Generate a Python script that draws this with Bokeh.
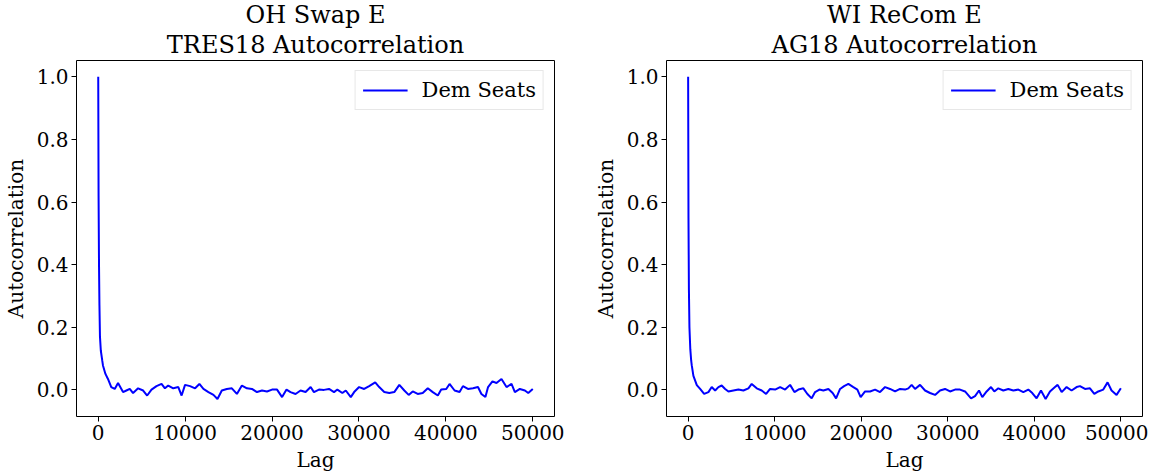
from bokeh.plotting import figure
from bokeh.layouts import row
from bokeh.models import FixedTicker, PrintfTickFormatter, Range1d, Legend, LegendItem, Title
from bokeh.embed import file_html
from bokeh.resources import INLINE

# ---- data ----
lag_oh = [0, 40, 90, 140, 200, 300, 460, 545, 830, 1120, 1500, 1900, 2280, 2855, 3240, 3630, 4010,
          4590, 5170, 5630, 6130, 6705, 7285, 7675, 8055, 8635, 9215, 9595, 9990, 10565, 11145,
          11640, 12105, 12680, 13260, 13720, 14220, 14795, 15375, 15955, 16530, 17110, 17685,
          18265, 18845, 19420, 20000, 20575, 21155, 21665, 22125, 22705, 23280, 23860, 24440,
          24820, 25400, 25975, 26555, 27130, 27515, 28090, 28485, 29060, 29445, 30020, 30600,
          31175, 31870, 32330, 32910, 33490, 34065, 34645, 35220, 35720, 36185, 36760, 37340,
          37920, 38495, 39075, 39465, 40045, 40425, 41005, 41580, 41965, 42540, 43120, 43695,
          44090, 44550, 44855, 45360, 45825, 46400, 46980, 47555, 47940, 48515, 49095, 49480, 50000]
acf_oh = [1.0, 0.62, 0.40, 0.27, 0.17, 0.125, 0.094, 0.078, 0.051, 0.035, 0.009, 0.003, 0.022, -0.007,
          -0.002, 0.003, -0.010, 0.005, -0.002, -0.018, 0.001, 0.012, 0.019, 0.005, 0.014, 0.005,
          0.009, -0.018, 0.016, 0.012, 0.005, 0.019, 0.003, -0.007, -0.016, -0.029, -0.002, 0.003,
          0.005, -0.013, 0.014, 0.005, 0.003, -0.007, -0.002, -0.005, 0.001, 0.001, -0.023, 0.001,
          -0.007, -0.013, -0.002, -0.007, 0.009, -0.007, 0.001, 0.000, 0.003, -0.007, 0.001, -0.010,
          -0.002, -0.023, -0.007, 0.009, 0.003, 0.012, 0.024, 0.009, -0.007, -0.010, -0.007, 0.016,
          -0.002, -0.016, -0.005, -0.013, -0.010, 0.005, -0.007, -0.018, 0.001, 0.003, 0.019, -0.002,
          -0.007, 0.012, 0.003, 0.005, 0.009, -0.013, -0.023, 0.009, 0.027, 0.022, 0.035, 0.009,
          0.019, -0.007, 0.003, -0.002, -0.010, 0.003]

lag_wi = [0, 40, 90, 150, 250, 350, 420, 610, 1000, 1385, 1850, 2345, 2725, 3120, 3500, 3880, 4275,
          4655, 5230, 5810, 6385, 6965, 7345, 7925, 8500, 9010, 9470, 10050, 10625, 11205, 11780,
          12280, 12740, 13315, 13780, 14275, 14670, 15165, 15625, 16205, 16700, 17095, 17555,
          18020, 18515, 19090, 19555, 19935, 20445, 21020, 21600, 22175, 22755, 23330, 23910,
          24485, 25065, 25445, 25825, 26220, 26795, 27375, 27950, 28530, 29105, 29685, 30260,
          30840, 31415, 31995, 32685, 33150, 33610, 33990, 34490, 34995, 35380, 35840, 36420,
          36995, 37575, 38150, 38730, 39305, 39765, 40265, 40770, 41305, 41810, 42390, 42695,
          43160, 43730, 44305, 44885, 45275, 45855, 46430, 46930, 47390, 47965, 48465, 48925,
          49505, 50000]
acf_wi = [1.0, 0.55, 0.32, 0.20, 0.13, 0.094, 0.078, 0.045, 0.015, 0.003, -0.013, -0.007, 0.009,
          -0.002, 0.009, 0.014, 0.003, -0.005, -0.002, 0.001, -0.002, 0.005, 0.019, 0.005, -0.002,
          -0.013, 0.003, 0.001, 0.009, 0.001, 0.016, -0.007, 0.001, 0.005, -0.013, -0.027, -0.007,
          0.001, -0.002, 0.003, -0.010, -0.027, 0.003, 0.012, 0.019, 0.009, 0.001, -0.023, -0.005,
          -0.005, 0.001, -0.007, 0.009, 0.003, -0.005, 0.003, 0.001, 0.005, 0.016, 0.003, 0.016,
          -0.002, -0.010, -0.016, -0.002, 0.003, -0.005, 0.001, 0.001, -0.005, -0.027, -0.020,
          -0.002, -0.023, -0.005, 0.009, -0.005, 0.005, -0.002, 0.003, -0.002, 0.001, -0.007, 0.001,
          -0.010, -0.027, -0.002, -0.029, -0.005, 0.009, 0.016, -0.007, 0.009, -0.002, 0.009, 0.012,
          0.003, 0.005, -0.013, -0.005, 0.001, 0.024, -0.002, -0.016, 0.005]

titles_top = ["OH Swap E", "WI ReCom E"]
titles_bottom = ["TRES18 Autocorrelation", "AG18 Autocorrelation"]
series_label = "Dem Seats"
x_label = "Lag"
y_label = "Autocorrelation"
x_ticks = [0, 10000, 20000, 30000, 40000, 50000]
y_ticks = [0.0, 0.2, 0.4, 0.6, 0.8, 1.0]

FONT = "DejaVu Serif"
X0, X1 = -2500, 52500
Y0, Y1 = -0.085, 1.052


def make_title(text, standoff):
    return Title(text=text, align="center", text_font=FONT, text_font_size="24px",
                 text_font_style="normal", text_color="black", standoff=standoff)


def make_plot(lags, acf, t1, t2, width, border_left, border_right):
    p = figure(width=width, height=474, output_backend="svg", toolbar_location=None,
               x_range=Range1d(X0, X1), y_range=Range1d(Y0, Y1),
               min_border_left=border_left, min_border_right=border_right,
               min_border_top=40, min_border_bottom=30)
    p.grid.visible = False
    p.outline_line_color = "black"
    p.outline_line_width = 1
    r = p.line(lags, acf, line_color="#0000ff", line_width=2)

    for ax in (p.xaxis[0], p.yaxis[0]):
        ax.axis_line_color = None
        ax.major_tick_line_color = "black"
        ax.major_tick_out = 5
        ax.major_tick_in = 0
        ax.minor_tick_line_color = None
        ax.major_label_text_font = FONT
        ax.major_label_text_font_size = "20px"
        ax.major_label_text_color = "black"
        ax.axis_label_text_font = FONT
        ax.axis_label_text_font_size = "20px"
        ax.axis_label_text_font_style = "normal"
        ax.axis_label_text_color = "black"
        ax.major_label_standoff = 3
    p.xaxis[0].ticker = FixedTicker(ticks=x_ticks)
    p.xaxis[0].formatter = PrintfTickFormatter(format="%d")
    p.yaxis[0].ticker = FixedTicker(ticks=y_ticks)
    p.yaxis[0].formatter = PrintfTickFormatter(format="%.1f")
    p.yaxis[0].axis_label = y_label
    p.yaxis[0].axis_label_standoff = 6
    p.xaxis[0].axis_label = x_label
    p.xaxis[0].axis_label_standoff = 5

    p.add_layout(make_title(t2, 4), "above")
    p.add_layout(make_title(t1, -4), "above")

    legend = Legend(items=[LegendItem(label=series_label, renderers=[r])], location="top_right")
    legend.margin = 10
    legend.padding = 7
    legend.glyph_width = 45
    legend.glyph_height = 20
    legend.label_standoff = 14
    legend.label_text_font = FONT
    legend.label_text_font_size = "21px"
    legend.label_text_color = "black"
    legend.border_line_color = "#d0d0d0"
    legend.border_line_width = 1
    legend.background_fill_alpha = 0.8
    p.add_layout(legend, "center")
    return p


p1 = make_plot(lag_oh, acf_oh, titles_top[0], titles_bottom[0], 590, 74, 36)
p2 = make_plot(lag_wi, acf_wi, titles_top[1], titles_bottom[1], 558, 74, 6)
layout = row(p1, p2)

open("out.html", "w").write(file_html(layout, INLINE))
